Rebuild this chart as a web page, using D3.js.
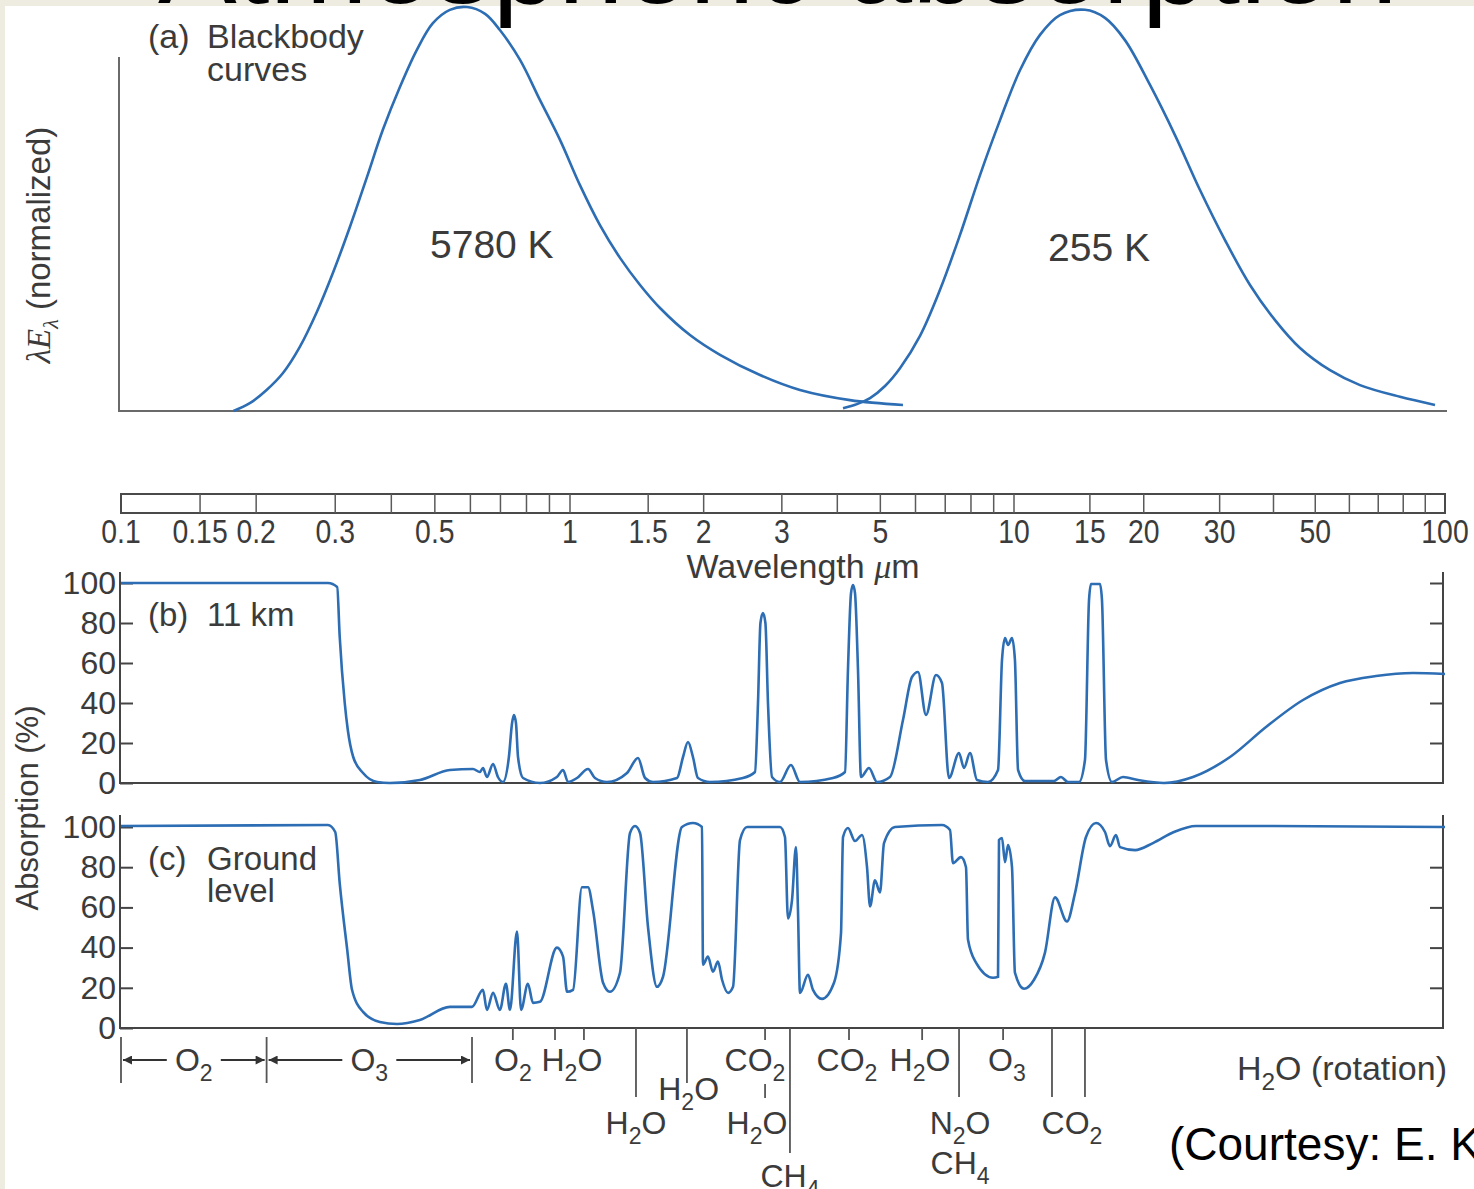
<!DOCTYPE html>
<html>
<head>
<meta charset="utf-8">
<script src="https://cdn.jsdelivr.net/npm/d3@7"></script>
<style>
  body { margin: 0; overflow: hidden; background: #eeece1; }
  svg { display: block; }
</style>
</head>
<body>
<div id="chart"></div>
<script>
// ---- data (wavelength in micrometres) ----
const boxTicks = [0.15, 0.2, 0.3, 0.4, 0.5, 0.6, 0.7, 0.8, 0.9, 1, 1.5, 2, 3, 4, 5, 6, 7, 8, 9,
  10, 15, 20, 30, 40, 50, 60, 70, 80, 90];
const boxLabels = [0.1, 0.15, 0.2, 0.3, 0.5, 1, 1.5, 2, 3, 5, 10, 15, 20, 30, 50, 100];
const percentTicks = [0, 20, 40, 60, 80, 100];

// (a) normalized blackbody curves [wavelength, lambda*E]
const sun5780 = [
  [0.178, 0], [0.194, 0.02], [0.211, 0.052], [0.2295, 0.094], [0.25, 0.158], [0.273, 0.245],
  [0.297, 0.344], [0.324, 0.458], [0.353, 0.579], [0.383, 0.696], [0.418, 0.802], [0.456, 0.894],
  [0.495, 0.96], [0.54, 0.993], [0.59, 1.0], [0.647, 0.983], [0.698, 0.943], [0.774, 0.869],
  [0.857, 0.77], [0.95, 0.671], [1.053, 0.559], [1.168, 0.46], [1.296, 0.379], [1.438, 0.312],
  [1.595, 0.255], [1.863, 0.188], [2.177, 0.139], [2.679, 0.089], [3.296, 0.052], [4.272, 0.027],
  [5.623, 0.015]
];
const earth255 = [
  [4.12, 0.007], [4.43, 0.017], [4.74, 0.032], [5.123, 0.062], [5.536, 0.106], [6.142, 0.186],
  [6.813, 0.3], [7.558, 0.436], [8.384, 0.584], [9.301, 0.72], [10.33, 0.844], [11.49, 0.931],
  [12.78, 0.98], [14.61, 0.993], [16.26, 0.973], [18.09, 0.918], [20.68, 0.807], [23.63, 0.683],
  [27.01, 0.547], [30.87, 0.423], [35.28, 0.312], [40.33, 0.225], [46.09, 0.156], [54.1, 0.101],
  [63.5, 0.064], [78.62, 0.035], [94.8, 0.015]
];

// (b) absorption at 11 km [wavelength, %]
const absorb11km = [
  [0.1, 100], [0.289, 100], [0.303, 98], [0.307, 73], [0.315, 40], [0.32, 26.5], [0.329, 13],
  [0.346, 5], [0.372, 0.5], [0.397, 0], [0.463, 1.5], [0.54, 6.5], [0.608, 7], [0.63, 5.5],
  [0.64, 7.5], [0.653, 3], [0.674, 9.5], [0.691, 3], [0.709, 0.5], [0.731, 13], [0.743, 30],
  [0.75, 34], [0.758, 30], [0.766, 13], [0.786, 2.5], [0.857, 0], [0.935, 3], [0.965, 6.5],
  [0.99, 0.5], [1.037, 2.5], [1.098, 7], [1.138, 2.5], [1.211, 0.5], [1.344, 5], [1.423, 12.5],
  [1.476, 2.5], [1.538, 0.5], [1.742, 2.5], [1.797, 13], [1.844, 20.5], [1.892, 13], [1.942, 2.5],
  [2.067, 0.5], [2.452, 2.5], [2.61, 5.5], [2.651, 40], [2.685, 80], [2.72, 85], [2.755, 80],
  [2.792, 40], [2.851, 3], [2.971, 0.5], [3.145, 9], [3.296, 0.5], [3.911, 2.5], [4.163, 5.5],
  [4.227, 56.5], [4.295, 95], [4.339, 99], [4.384, 95], [4.453, 56.5], [4.523, 3], [4.714, 7.5],
  [4.914, 0.5], [5.257, 3], [5.623, 31.5], [5.892, 53], [6.079, 55.5], [6.336, 34], [6.673, 54],
  [6.883, 50], [7.138, 2.5], [7.518, 15], [7.716, 7.5], [7.96, 15], [8.255, 1.5], [8.738, 0.5],
  [9.205, 6.5], [9.397, 61.5], [9.544, 72.5], [9.694, 69], [9.897, 72.5], [10.05, 61.5],
  [10.22, 6.5], [10.6, 1], [12.38, 1], [12.85, 3], [13.34, 0.5], [14.15, 0.5], [14.61, 11.5],
  [14.93, 91.5], [15.09, 99.5], [15.83, 99.5], [16.0, 91.5], [16.35, 11.5], [16.88, 0.5],
  [17.9, 3], [19.4, 1.5], [22.28, 0], [26.02, 3], [31.71, 13], [38.44, 28], [46.83, 41.5],
  [57.06, 50], [69.17, 53.5], [84.3, 55], [100, 54.5]
];

// (c) absorption at ground level [wavelength, %]
const absorbGround = [
  [0.1, 100.5], [0.289, 101], [0.3, 97.5], [0.307, 72], [0.319, 39], [0.327, 19], [0.346, 8],
  [0.377, 3], [0.412, 2], [0.463, 4], [0.54, 10.5], [0.605, 10.5], [0.64, 19], [0.653, 9],
  [0.674, 17.5], [0.698, 9], [0.72, 22], [0.735, 9], [0.762, 48], [0.778, 9], [0.806, 22],
  [0.827, 12.5], [0.857, 13], [0.935, 40], [0.965, 35.5], [0.985, 18], [1.016, 19], [1.064, 70],
  [1.098, 70], [1.127, 58.5], [1.187, 22.5], [1.23, 18], [1.296, 27.5], [1.365, 97], [1.401, 100.5],
  [1.438, 97], [1.499, 50], [1.57, 20.5], [1.62, 25.5], [1.787, 100], [1.892, 102], [1.983, 100],
  [1.993, 31.5], [2.045, 35.5], [2.099, 28], [2.154, 33], [2.2, 24], [2.27, 17.5], [2.329, 20.5],
  [2.415, 93.5], [2.504, 100], [2.971, 100], [3.049, 95], [3.097, 54.5], [3.162, 63.5], [3.228, 90],
  [3.262, 58.5], [3.296, 17.5], [3.436, 26.5], [3.526, 19], [3.695, 14.5], [3.932, 22.5],
  [4.077, 47], [4.12, 95], [4.227, 99.5], [4.384, 93], [4.547, 96], [4.666, 80], [4.74, 60.5],
  [4.863, 73.5], [4.991, 67.5], [5.096, 92], [5.395, 100], [6.883, 101], [7.176, 98.5],
  [7.287, 82], [7.596, 85], [7.796, 80], [7.877, 44], [8.212, 32.5], [8.969, 25], [9.205, 25.5],
  [9.252, 93.5], [9.397, 94.5], [9.544, 82.5], [9.694, 91], [9.897, 80], [10.05, 27.5],
  [10.55, 19.5], [11.13, 24], [11.8, 37.5], [12.45, 65], [13.27, 53], [13.85, 67], [14.69, 95],
  [15.5, 102], [16.26, 97.5], [16.7, 90.5], [17.24, 96], [17.62, 90], [19.09, 88.5], [21.01, 92],
  [23.5, 97.5], [26.44, 100.5], [39.9, 100.5], [100, 100]
];

// absorbing gases under panel (c)
const bandEdges = [0.1, 0.211, 0.605];
const bandGases = ["O_2", "O_3"];
const shortMarks = [0.746, 0.926, 1.075, 2.75, 4.25, 6.21, 9.45];
const midMarks = [1.834];
const longMarks = [1.408, 7.52, 12.25, 14.61];
const tallMarks = [3.129];
const gasLabels = [
  { text: "O_2", w: 0.746, row: 0 }, { text: "H_2O", w: 1.01, row: 0 },
  { text: "CO_2", w: 2.61, row: 0 }, { text: "CO_2", w: 4.205, row: 0 },
  { text: "H_2O", w: 6.14, row: 0 }, { text: "O_3", w: 9.64, row: 0 },
  { text: "H_2O", w: 1.85, row: 1 },
  { text: "H_2O", w: 1.408, row: 2 }, { text: "H_2O", w: 2.637, row: 2 },
  { text: "N_2O", w: 7.56, row: 2 }, { text: "CO_2", w: 13.63, row: 2 },
  { text: "CH_4", w: 7.56, row: 3 }, { text: "CH_4", w: 3.129, row: 4 }
];

// ---- drawing ----
const W = 1474, H = 1189;
const sans = "'Liberation Sans', Arial, Helvetica, sans-serif";
const serif = "'Liberation Serif', 'DejaVu Serif', serif";
const ink = "#3b3b3b";
const blue = "#2c6db4";

const svg = d3.select("#chart").append("svg").attr("width", W).attr("height", H);

// slide background and white picture
svg.append("rect").attr("width", W).attr("height", H).attr("fill", "#eeece1");
svg.append("rect").attr("x", 5).attr("y", 6).attr("width", W).attr("height", H).attr("fill", "#fff");

// the figure was drawn with slightly uneven decades
const x = d3.scaleLog().domain([0.1, 1, 10, 100]).range([121, 570, 1014, 1445]);
const yA = d3.scaleLinear().domain([0, 1]).range([411, 7]);
const yB = d3.scaleLinear().domain([0, 100]).range([783, 583]);
const yC = d3.scaleLinear().domain([0, 100]).range([1028, 827]);

// subscripts written as "H_2O"
function chem(text, label, size) {
  let down = false;
  label.split(/(_\d)/).forEach((p) => {
    if (!p) return;
    if (p[0] === "_") {
      text.append("tspan").attr("dy", size * 0.3).attr("font-size", size * 0.72).text(p.slice(1));
      down = true;
    } else {
      text.append("tspan").attr("dy", down ? -size * 0.3 : null).text(p);
      down = false;
    }
  });
}

function label(xp, yp, str, size, opts = {}) {
  return svg.append("text")
    .attr("x", xp).attr("y", yp)
    .attr("font-family", opts.family || sans)
    .attr("font-size", size)
    .attr("fill", opts.fill || ink)
    .attr("text-anchor", opts.anchor || "start")
    .text(str);
}

// ---------- panel (a) ----------
svg.append("path")
  .attr("d", `M119,57V411H1447`)
  .attr("fill", "none").attr("stroke", "#6a6a6a").attr("stroke-width", 2);

const lineA = d3.line().x((d) => x(d[0])).y((d) => yA(d[1])).curve(d3.curveCatmullRom.alpha(0.5));
[sun5780, earth255].forEach((s) => {
  svg.append("path").datum(s).attr("d", lineA)
    .attr("fill", "none").attr("stroke", blue).attr("stroke-width", 2.6);
});

label(148, 48, "(a)", 34);
label(207, 48, "Blackbody", 34);
label(207, 81, "curves", 34);
label(430, 258, "5780 K", 39);
label(1048, 261, "255 K", 39);

const yLab = svg.append("text")
  .attr("transform", "translate(50,245) rotate(-90)")
  .attr("text-anchor", "middle").attr("fill", ink).attr("font-size", 33);
yLab.append("tspan").attr("font-family", serif).attr("font-style", "italic").text("λE");
yLab.append("tspan").attr("font-family", serif).attr("font-style", "italic")
  .attr("font-size", 22).attr("dy", 8).text("λ");
yLab.append("tspan").attr("font-family", sans).attr("dy", -8).text(" (normalized)");

// ---------- wavelength scale box ----------
const box = svg.append("g");
box.append("rect")
  .attr("x", x(0.1)).attr("y", 494)
  .attr("width", x(100) - x(0.1)).attr("height", 19)
  .attr("fill", "none").attr("stroke", "#4a4a4a").attr("stroke-width", 2);
box.selectAll(".bt").data(boxTicks).enter().append("line")
  .attr("class", "bt")
  .attr("x1", (d) => x(d)).attr("x2", (d) => x(d))
  .attr("y1", 494).attr("y2", 513)
  .attr("stroke", "#5a5a5a").attr("stroke-width", 1.5);
// condensed digits, as in the figure
box.selectAll(".bl").data(boxLabels).enter().append("text")
  .attr("class", "bl")
  .attr("transform", (d) => `translate(${x(d)},543) scale(0.86,1)`)
  .attr("text-anchor", "middle")
  .attr("font-family", sans).attr("font-size", 33).attr("fill", ink)
  .text((d) => d);

const wl = label(803, 578, "Wavelength  ", 34, { anchor: "middle" });
wl.append("tspan").attr("font-family", serif).attr("font-style", "italic").text("μ");
wl.append("tspan").text("m");

// ---------- panels (b) and (c) ----------
function absorptionPanel(y, data, top, rightTicks) {
  const g = svg.append("g");
  const y0 = y.range()[0];

  g.append("g")
    .attr("transform", "translate(120,0)")
    .call(d3.axisLeft(y).tickValues(percentTicks).tickSize(-13).tickPadding(4))
    .call((a) => a.select(".domain").remove())
    .call((a) => a.selectAll("line").attr("stroke", "#444").attr("stroke-width", 2))
    .call((a) => a.selectAll("text").attr("font-family", sans).attr("font-size", 32).attr("fill", ink));

  g.append("g")
    .attr("transform", "translate(1443,0)")
    .call(d3.axisLeft(y).tickValues(rightTicks).tickSize(13).tickFormat(""))
    .call((a) => a.select(".domain").remove())
    .call((a) => a.selectAll("line").attr("stroke", "#444").attr("stroke-width", 2));

  g.append("path")
    .attr("d", `M120,${top}V${y0}H1443V${top}`)
    .attr("fill", "none").attr("stroke", "#444").attr("stroke-width", 2);

  const line = d3.line().x((d) => x(d[0])).y((d) => y(d[1])).curve(d3.curveMonotoneX);
  g.append("path").datum(data).attr("d", line)
    .attr("fill", "none").attr("stroke", blue).attr("stroke-width", 2.6);
}

absorptionPanel(yB, absorb11km, 572, [20, 40, 60, 80, 100]);
absorptionPanel(yC, absorbGround, 815, [20, 40, 60, 80]);

label(148, 626, "(b)", 33);
label(207, 626, "11 km", 33);
label(148, 870, "(c)", 33);
label(207, 870, "Ground", 33);
label(207, 902, "level", 33);

svg.append("text")
  .attr("transform", "translate(38,808) rotate(-90)")
  .attr("text-anchor", "middle")
  .attr("font-family", sans).attr("font-size", 31).attr("fill", ink)
  .text("Absorption (%)");

// ---------- gas annotations ----------
const defs = svg.append("defs");
defs.append("marker")
  .attr("id", "arrow").attr("viewBox", "0 0 10 10")
  .attr("refX", 10).attr("refY", 5)
  .attr("markerUnits", "userSpaceOnUse")
  .attr("markerWidth", 15).attr("markerHeight", 9)
  .attr("orient", "auto-start-reverse")
  .append("path").attr("d", "M0,0L10,5L0,10Z").attr("fill", "#333");

const ann = svg.append("g").attr("stroke", "#555").attr("stroke-width", 1.8);
const yAxisC = yC.range()[0];

ann.selectAll(".edge").data(bandEdges).enter().append("line")
  .attr("x1", (d) => x(d)).attr("x2", (d) => x(d))
  .attr("y1", 1037).attr("y2", 1083);

bandGases.forEach((gas, i) => {
  const a = x(bandEdges[i]), b = x(bandEdges[i + 1]);
  const mid = (a + b) / 2;
  ann.append("line").attr("x1", mid - 27).attr("x2", a + 2).attr("y1", 1060).attr("y2", 1060)
    .attr("stroke", "#333").attr("marker-end", "url(#arrow)");
  ann.append("line").attr("x1", mid + 27).attr("x2", b - 2).attr("y1", 1060).attr("y2", 1060)
    .attr("stroke", "#333").attr("marker-end", "url(#arrow)");
  const t = svg.append("text").attr("x", mid).attr("y", 1071)
    .attr("text-anchor", "middle").attr("font-family", sans)
    .attr("font-size", 32).attr("fill", ink);
  chem(t, gas, 32);
});

function marks(list, y2) {
  ann.append("g").selectAll("line").data(list).enter().append("line")
    .attr("x1", (d) => x(d)).attr("x2", (d) => x(d))
    .attr("y1", yAxisC).attr("y2", y2);
}
marks(shortMarks, 1040);
marks(midMarks, 1083);
marks(longMarks, 1097);
marks(tallMarks, 1153);
ann.append("line").attr("x1", x(2.75)).attr("x2", x(2.75)).attr("y1", 1084).attr("y2", 1098);

const rowBase = [1071, 1100, 1134, 1174, 1187];
gasLabels.forEach((d) => {
  const t = svg.append("text")
    .attr("x", x(d.w)).attr("y", rowBase[d.row])
    .attr("text-anchor", "middle").attr("font-family", sans)
    .attr("font-size", 32).attr("fill", ink);
  chem(t, d.text, 32);
});

const rot = svg.append("text")
  .attr("x", x(100) + 2).attr("y", 1080)
  .attr("text-anchor", "end").attr("font-family", sans)
  .attr("font-size", 34).attr("fill", ink);
chem(rot, "H_2O (rotation)", 34);

// ---------- slide text ----------
label(1169, 1160, "(Courtesy: E. K", 46, { fill: "#000" });
label(158, 3, "Atmospheric absorption", 118, { fill: "#000" });
</script>
</body>
</html>
